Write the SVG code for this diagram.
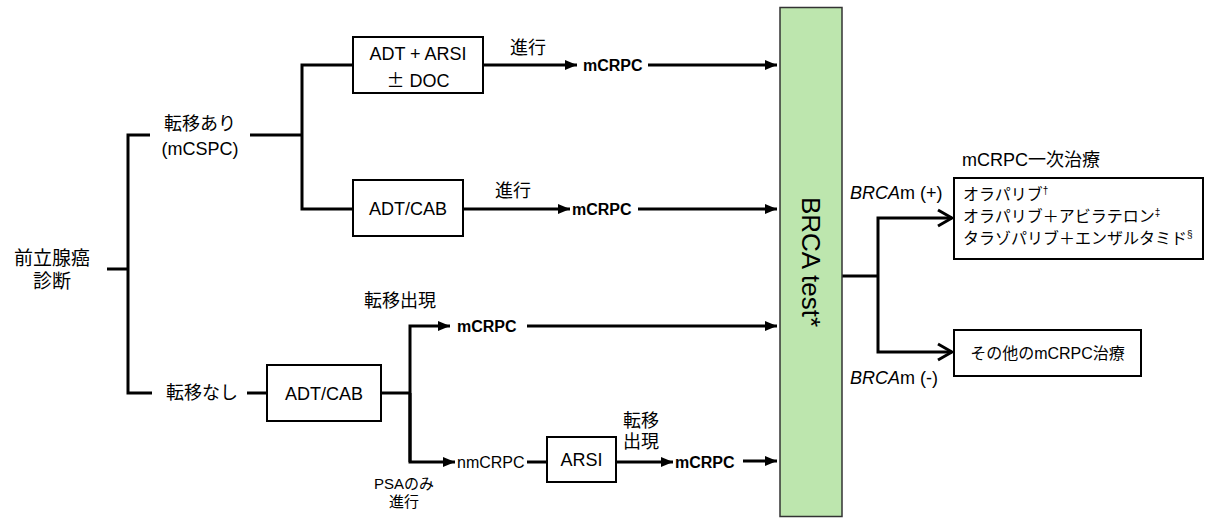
<svg xmlns="http://www.w3.org/2000/svg" width="1206" height="518" viewBox="0 0 1206 518">
<style>
text{font-family:"Liberation Sans","Noto Sans CJK JP",sans-serif;fill:#000}
.t18{font-size:18px}
.t16{font-size:16px}
.t15{font-size:15px}
.b{font-weight:bold;font-size:16px}
.box{fill:#fff;stroke:#000;stroke-width:2}
.ln{fill:none;stroke:#000;stroke-width:3}
.ar{fill:none;stroke:#000;stroke-width:3;marker-end:url(#tri)}
.ao{fill:none;stroke:#000;stroke-width:3;marker-end:url(#chev)}
</style>
<defs>
<marker id="tri" markerUnits="userSpaceOnUse" viewBox="0 0 12 10" refX="12" refY="5" markerWidth="12" markerHeight="10" orient="auto">
<path d="M0,0 L12,5 L0,10 z" fill="#000"/>
</marker>
<marker id="chev" markerUnits="userSpaceOnUse" viewBox="0 0 18 20" refX="16" refY="10" markerWidth="18" markerHeight="20" orient="auto">
<path d="M2,2 L16,10 L2,18" fill="none" stroke="#000" stroke-width="3"/>
</marker>
</defs>

<g id="connectors">
<path class="ln" d="M107,269 H128 M150,135 H128 V393 H152"/>
<path class="ln" d="M250,135 H302 M353,65 H302 V209 H353"/>
<path class="ar" d="M483,65 H577"/>
<path class="ar" d="M648,65 H777"/>
<path class="ar" d="M463,209 H570"/>
<path class="ar" d="M638,209 H777"/>
<path class="ln" d="M247,393 H267"/>
<path class="ln" d="M381,393 H410"/>
<path class="ar" d="M410,462 V326 H450"/>
<path class="ar" d="M410,393 V462 H455"/>
<path class="ar" d="M527,326 H777"/>
<path class="ln" d="M527,462 H547"/>
<path class="ar" d="M616,462 H673"/>
<path class="ar" d="M743,461 H777"/>
<path class="ln" d="M842,276 H878"/>
<path class="ao" d="M878,276 V218 H952"/>
<path class="ao" d="M878,276 V352 H952"/>
</g>

<g id="diag">
<text class="t18" x="52" y="265" text-anchor="middle" style="font-size:19px">前立腺癌</text>
<text class="t18" x="52" y="288" text-anchor="middle" style="font-size:19px">診断</text>
</g>

<g id="met">
<text class="t18" x="200" y="130" text-anchor="middle">転移あり</text>
<text class="t18" x="200" y="155" text-anchor="middle">(mCSPC)</text>
</g>

<g id="nomet">
<text class="t18" x="202" y="399" text-anchor="middle">転移なし</text>
</g>

<g id="box-adt-arsi">
<rect class="box" x="353" y="37" width="130" height="56"/>
<text class="t18" x="418" y="60" text-anchor="middle">ADT + ARSI</text>
<text class="t18" x="418" y="87" text-anchor="middle"><tspan font-family="Noto Sans CJK JP, sans-serif">±</tspan> DOC</text>
</g>

<g id="box-adt-cab1">
<rect class="box" x="353" y="180" width="110" height="56"/>
<text class="t18" x="408" y="215" text-anchor="middle">ADT/CAB</text>
</g>

<g id="box-adt-cab2">
<rect class="box" x="267" y="365" width="114" height="56"/>
<text class="t18" x="324" y="400" text-anchor="middle">ADT/CAB</text>
</g>

<g id="box-arsi">
<rect class="box" x="547" y="437" width="69" height="45"/>
<text class="t18" x="581.5" y="466" text-anchor="middle">ARSI</text>
</g>

<g id="labels">
<text class="t18" x="528" y="54" text-anchor="middle">進行</text>
<text class="b" x="583" y="71">mCRPC</text>
<text class="t18" x="513" y="197" text-anchor="middle">進行</text>
<text class="b" x="572" y="215">mCRPC</text>
<text class="t18" x="400" y="307" text-anchor="middle">転移出現</text>
<text class="b" x="457" y="332">mCRPC</text>
<text class="t16" x="457" y="468">nmCRPC</text>
<text class="t15" x="404" y="489" text-anchor="middle">PSAのみ</text>
<text class="t15" x="404" y="507" text-anchor="middle">進行</text>
<text class="t18" x="641" y="427" text-anchor="middle">転移</text>
<text class="t18" x="641" y="448" text-anchor="middle">出現</text>
<text class="b" x="675" y="468">mCRPC</text>
</g>

<g id="brca-test">
<rect x="780" y="7.5" width="62" height="509" fill="#bde6ae" stroke="#333" stroke-width="1.5"/>
<text x="811" y="262" text-anchor="middle" transform="rotate(90 811 262)" dy="9" style="font-size:26px">BRCA test*</text>
</g>

<g id="brca-labels">
<text class="t18" x="850" y="199"><tspan font-style="italic">BRCA</tspan>m (+)</text>
<text class="t18" x="850" y="384"><tspan font-style="italic">BRCA</tspan>m (-)</text>
<text class="t18" x="962" y="166">mCRPC一次治療</text>
</g>

<g id="box-parp">
<rect class="box" x="954" y="178" width="249" height="81"/>
<text class="t16" x="963" y="200">オラパリブ<tspan font-size="10" dy="-6">†</tspan></text>
<text class="t16" x="963" y="222">オラパリブ＋アビラテロン<tspan font-size="10" dy="-6">‡</tspan></text>
<text class="t16" x="963" y="244">タラゾパリブ＋エンザルタミド<tspan font-size="10" dy="-6">§</tspan></text>
</g>

<g id="box-other">
<rect class="box" x="954" y="330" width="187" height="46"/>
<text class="t16" x="1047.5" y="359" text-anchor="middle">その他のmCRPC治療</text>
</g>
</svg>
